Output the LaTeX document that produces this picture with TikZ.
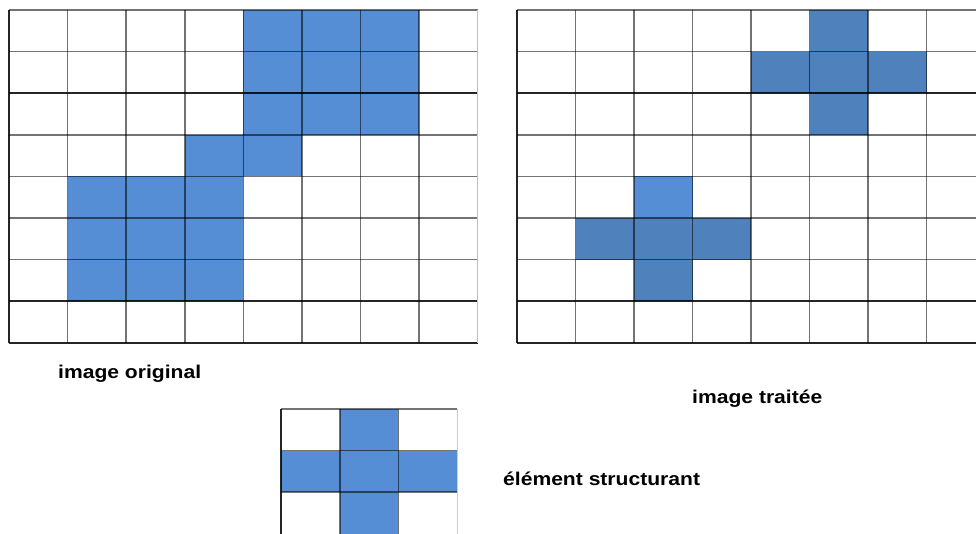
\documentclass[tikz,border=0pt]{standalone}
\usepackage{fontspec}
\setmainfont{Liberation Sans}
\definecolor{blueA}{HTML}{558ED5}
\definecolor{blueB}{HTML}{4F81BD}
\tikzset{
  gridline/.style={draw=black, draw opacity=0.55, line width=1.7pt},
  boldline/.style={draw=black, draw opacity=0.85, line width=1.8pt},
  lbl/.style={inner sep=0pt, font=\fontsize{18.5}{20}\selectfont\bfseries, text=black},
}
\newcommand{\stretchtxt}[1]{\scalebox{1.14}[1]{#1}}
\begin{document}
\begin{tikzpicture}[x=1pt,y=-1pt]
\useasboundingbox[fill=white] (0,0) rectangle (976,534);
% ---------- left grid: image original ----------
\def\lx{9}\def\ly{10}\def\lw{58.6}\def\lh{41.6}
\foreach \c/\r in {4/0,5/0,6/0,4/1,5/1,6/1,4/2,5/2,6/2,3/3,4/3,1/4,2/4,3/4,1/5,2/5,3/5,1/6,2/6,3/6}{
  \fill[blueA] (\lx+\c*\lw,\ly+\r*\lh) rectangle ++(\lw,\lh);
}
\foreach \r in {0,1,3,4,5,6}{
  \draw[gridline] (\lx,\ly+\r*\lh) -- (\lx+8*\lw,\ly+\r*\lh);
}
\foreach \r in {2,7,8}{
  \draw[boldline] (\lx,\ly+\r*\lh) -- (\lx+8*\lw,\ly+\r*\lh);
}
\foreach \c in {1,...,7}{
  \draw[gridline] (\lx+\c*\lw,\ly) -- (\lx+\c*\lw,\ly+8*\lh);
}
\draw[boldline] (\lx,\ly) -- (\lx,\ly+8*\lh);
\draw[draw=black!25, line width=0.8pt] (\lx+8*\lw,\ly) -- (\lx+8*\lw,\ly+8*\lh);
% ---------- right grid: image traitee ----------
\def\rx{517}\def\rw{58.5}
\foreach \c/\r in {5/0,4/1,5/1,6/1,5/2,1/5,2/5,3/5,2/6}{
  \fill[blueB] (\rx+\c*\rw,\ly+\r*\lh) rectangle ++(\rw,\lh);
}
\fill[blueA] (\rx+2*\rw,\ly+4*\lh) rectangle ++(\rw,\lh);
\foreach \r in {0,1,3,4,5,6}{
  \draw[gridline] (\rx,\ly+\r*\lh) -- (976,\ly+\r*\lh);
}
\foreach \r in {2,7,8}{
  \draw[boldline] (\rx,\ly+\r*\lh) -- (976,\ly+\r*\lh);
}
\foreach \c in {1,...,7}{
  \draw[gridline] (\rx+\c*\rw,\ly) -- (\rx+\c*\rw,\ly+8*\lh);
}
\draw[boldline] (\rx,\ly) -- (\rx,\ly+8*\lh);
% ---------- structuring element ----------
\def\sx{281}\def\sy{409}\def\sw{58.7}\def\sh{41.5}
\foreach \c/\r in {1/0,0/1,1/1,2/1,1/2}{
  \fill[blueA] (\sx+\c*\sw,\sy+\r*\sh) rectangle ++(\sw,\sh);
}
\draw[gridline] (\sx,\sy) -- (\sx+3*\sw,\sy);
\draw[gridline] (\sx,\sy+\sh) -- (\sx+3*\sw,\sy+\sh);
\draw[gridline] (\sx,\sy+2*\sh) -- (\sx+3*\sw,\sy+2*\sh);
\draw[gridline] (\sx+\sw,\sy) -- (\sx+\sw,534);
\draw[gridline] (\sx+2*\sw,\sy) -- (\sx+2*\sw,534);
\draw[boldline] (\sx,\sy) -- (\sx,534);
\draw[draw=black!20, line width=0.8pt] (\sx+3*\sw,\sy) -- (\sx+3*\sw,534);
% ---------- labels ----------
\node[lbl, anchor=base west] (orig) at (58,378) {\stretchtxt{image original}};
\node[lbl, anchor=base west] (trait) at (692,403) {\stretchtxt{image traitée}};
\node[lbl, anchor=base west] (elem) at (503,485) {\stretchtxt{élément structurant}};
\end{tikzpicture}
\end{document}
